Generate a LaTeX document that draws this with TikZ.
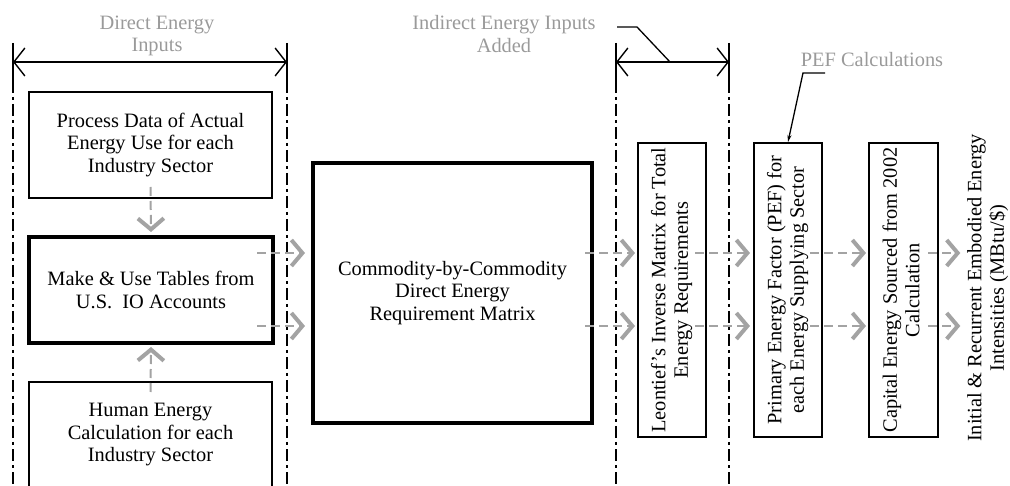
\documentclass[tikz,border=0pt]{standalone}
\usepackage{fontspec}
\usepackage{graphicx}
\setmainfont{Liberation Serif}
\usetikzlibrary{arrows.meta,calc}
\definecolor{txtgray}{HTML}{9A9A9A}
\definecolor{arrgray}{HTML}{A3A3A3}
\newcommand{\fsz}{\fontsize{20.4}{22.5}\selectfont}
\newcommand{\rtxt}[2]{\rotatebox{90}{\begin{tabular}{@{}c@{}}#1\\#2\end{tabular}}}
\begin{document}
\begin{tikzpicture}[x=1pt,y=-1pt,
  box/.style={draw, line width=1.4pt, inner sep=0pt, outer sep=0pt, align=center, font=\fsz},
  thickbox/.style={box, line width=3.4pt},
  vbox/.style={box, minimum width=68pt, minimum height=294pt},
  hdr/.style={text=txtgray, align=center, font=\fsz, inner sep=0pt},
  flow/.style={draw=arrgray, line width=2pt, dash pattern=on 9pt off 5pt,
     -{Straight Barb[length=11pt,width=26pt,line width=4pt]}},
  dimln/.style={draw, line width=1.4pt, {Straight Barb[length=11pt,width=28pt,line width=1.4pt]}-{Straight Barb[length=11pt,width=28pt,line width=1.4pt]}},
  extsolid/.style={draw, line width=1.4pt},
  extdash/.style={draw, line width=1.4pt, dash pattern=on 12pt off 4pt on 3pt off 4pt},
  leader/.style={draw, line width=1.3pt}
]
\useasboundingbox (0,0) rectangle (1010,486);
\clip (0,0) rectangle (1010,486);

% row coordinates
\coordinate (rowA) at (0,253);
\coordinate (rowB) at (0,326);

% extension lines
\foreach \n/\x in {e1/13, e2/287, e3/616, e4/729}{
  \coordinate (\n t) at (\x,43);
  \coordinate (\n m) at (\x,81);
  \coordinate (\n b) at (\x,490);
  \draw[extsolid] (\n t) -- (\n m);
  \draw[extdash] (\n m) -- (\n b);
}

% dimension lines
\coordinate (d1a) at (13,62);
\coordinate (d1b) at (287,62);
\coordinate (d2a) at (616,62);
\coordinate (d2b) at (729,62);
\draw[dimln] (d1a) -- (d1b);
\draw[dimln] (d2a) -- (d2b);

% headers
\node[hdr] (h1) at (157,36) {Direct Energy\\Inputs};
\node[hdr] (h2) at (504,34) {Indirect Energy Inputs\\Added};
\node[hdr] (h3) at (872,60) {PEF Calculations};

% boxes
\node[box, minimum width=243pt, minimum height=106pt] (b1) at (150.5,145)
  {Process Data of Actual\\Energy Use for each\\Industry Sector};
\node[thickbox, minimum width=244pt, minimum height=106pt] (b2) at (151,290)
  {Make \& Use Tables from\\U.S.\ \ IO Accounts};
\node[box, minimum width=243pt, minimum height=106pt] (b3) at (150.5,435)
  {Human Energy\\Calculation for each\\Industry Sector};
\node[thickbox, minimum width=279pt, minimum height=260pt] (b4) at (452.5,293)
  {Commodity-by-Commodity\\Direct Energy\\Requirement Matrix};
\node[vbox] (b5) at (672,290) {\rtxt{Leontief's Inverse Matrix for Total}{Energy Requirements}};
\node[vbox] (b6) at (788,290) {\rtxt{Primary Energy Factor (PEF) for}{each Energy Supplying Sector}};
\node[vbox, minimum width=69pt] (b7) at (903.5,290) {\rtxt{Capital Energy Sourced from 2002}{Calculation}};
\node[inner sep=0pt, font=\fsz] (out) at (988,288) {\rtxt{Initial \& Recurrent Embodied Energy}{Intensities (MBtu/\$)}};

% leaders
\coordinate (l2a) at (617,27);
\coordinate (l2b) at (637,27);
\coordinate (l2c) at (670,62);
\draw[leader] (l2a) -- (l2b) -- (l2c);
\coordinate (l3a) at (825,73);
\coordinate (l3b) at (803,73);
\draw[leader, -{Stealth[length=7pt,width=4pt]}] (l3a) -- (l3b) -- ($(b6.north)+(0,-1)$);

% vertical flows
\draw[flow] ($(b1.south)+(0,-11)$) -- ($(b2.north)+(0,-5)$);
\draw[flow] ($(b3.north)+(0,10)$) -- ($(b2.south)+(0,4)$);

% horizontal flows
\foreach \r in {rowA,rowB}{
  \draw[flow] ($(b2.east |- \r)+(-16,0)$) -- ($(b4.west |- \r)+(-8,0)$);
  \draw[flow] ($(b4.east |- \r)+(-7,0)$) -- ($(b5.west |- \r)+(-3,0)$);
  \draw[flow] ($(b5.east |- \r)+(-11,0)$) -- ($(b6.west |- \r)+(-4,0)$);
  \draw[flow] ($(b6.east |- \r)+(-12,0)$) -- ($(b7.west |- \r)+(-3,0)$);
  \draw[flow] ($(b7.east |- \r)+(-10,0)$) -- ($(out.west |- \r)+(-5,0)$);
}
\end{tikzpicture}
\end{document}
